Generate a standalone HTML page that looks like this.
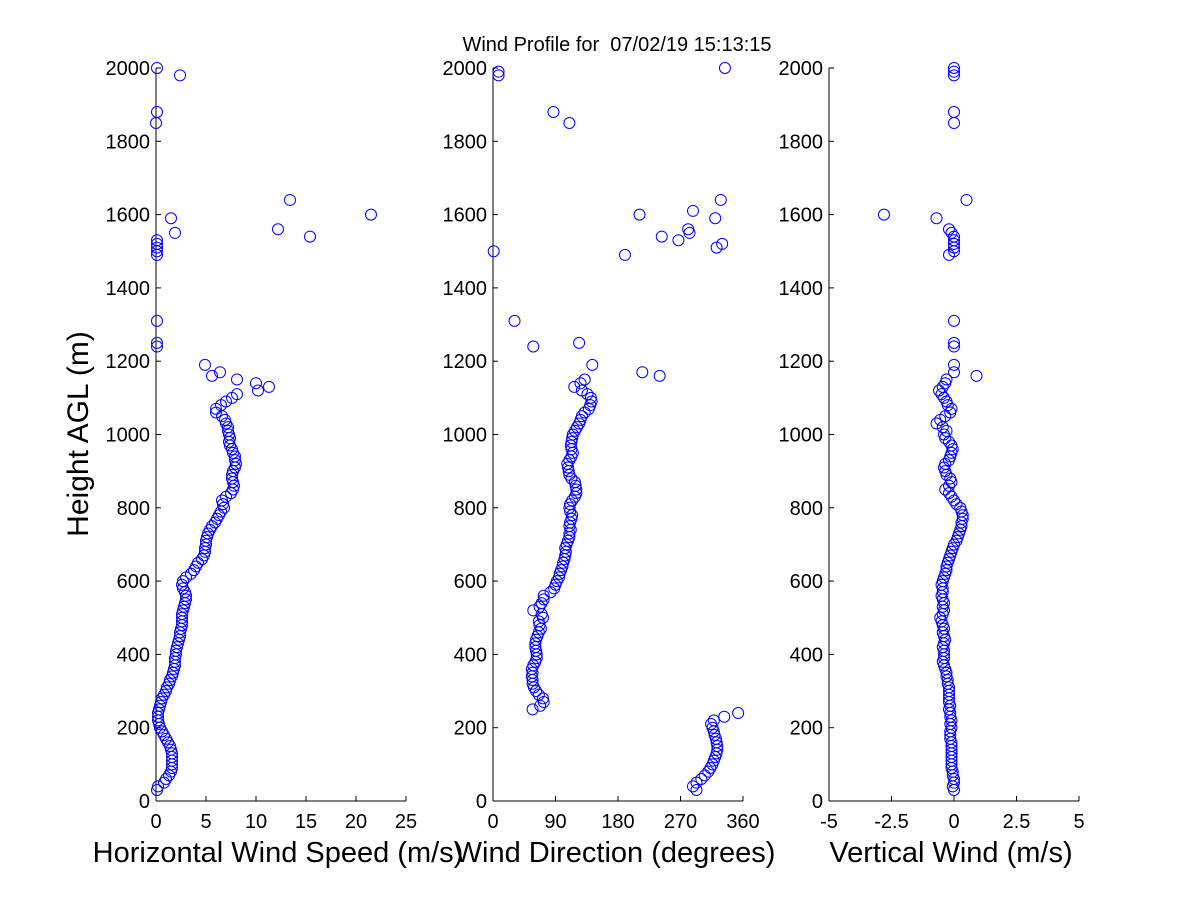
<!DOCTYPE html>
<html><head><meta charset="utf-8"><style>
body{margin:0;background:#fff;}
svg text{font-family:"Liberation Sans",sans-serif;fill:#000;}
</style></head><body>
<svg id="fig" width="1200" height="900" xmlns="http://www.w3.org/2000/svg">
<rect width="1200" height="900" fill="#fff"/>
<text x="617" y="51" font-size="20" text-anchor="middle" xml:space="preserve">Wind Profile for  07/02/19 15:13:15</text>
<text transform="translate(88,434) rotate(-90)" font-size="30" text-anchor="middle">Height AGL (m)</text>
<g id="plots"></g>
</svg>
<script>
const lowHeights=[];for(let h=30;h<=1150;h+=10)lowHeights.push(h);
const speedLow=[0.1,0.2,0.8,1.0,1.3,1.5,1.6,1.6,1.6,1.6,1.6,1.5,1.4,1.2,1.0,0.8,0.6,0.4,0.3,0.2,0.2,0.2,0.3,0.4,0.5,0.6,0.8,1.0,1.1,1.3,1.4,1.6,1.7,1.8,1.9,1.9,1.9,2.0,2.0,2.1,2.2,2.3,2.4,2.4,2.5,2.6,2.6,2.6,2.6,2.7,2.8,2.9,3.0,3.0,2.9,2.7,2.6,2.7,3.0,3.5,3.8,4.0,4.2,4.6,4.8,4.9,4.9,5.0,5.0,5.1,5.2,5.4,5.6,5.9,6.1,6.3,6.5,6.8,6.7,6.6,7.0,7.5,7.7,7.8,7.7,7.6,7.6,7.7,7.9,8.0,7.9,7.9,7.7,7.6,7.4,7.3,7.4,7.3,7.2,7.2,7.0,6.9,6.6,6.0,6.0,6.5,7.0,7.6,8.1,10.2,11.3,10.0,8.1];
const speedUpH=[1160,1170,1190,1240,1250,1310,1490,1500,1510,1520,1530,1540,1550,1560,1590,1600,1640,1850,1880,1980,2000];
const speedUp=[5.6,6.4,4.9,0.1,0.1,0.1,0.1,0.1,0.1,0.1,0.1,15.4,1.9,12.2,1.5,21.5,13.4,0.0,0.1,2.4,0.1];
const dirLow=[293,288,293,300,305,310,313,316,318,320,322,323,323,322,321,319,318,316,314,318,333,353,57,68,73,72,66,62,59,57,57,56,57,56,58,61,63,63,62,61,61,62,64,66,69,67,66,72,70,58,67,70,73,73,83,88,90,92,95,96,98,100,101,103,104,105,104,106,108,110,110,112,110,111,113,114,111,110,111,114,118,120,120,119,118,113,110,109,108,107,110,113,115,113,112,113,114,115,118,121,124,126,128,132,138,140,142,141,136,128,117,126,132];
const dirUpH=[1160,1170,1190,1240,1250,1310,1490,1500,1510,1520,1530,1540,1550,1560,1590,1600,1610,1640,1850,1880,1980,1990,2000];
const dirUp=[240,215,143,58,124,31,190,1,322,330,267,243,283,281,320,211,288,328,110,87,8,8,334];
const vertLow=[0,-0.05,0,0,-0.05,-0.05,-0.1,-0.1,-0.1,-0.1,-0.1,-0.1,-0.1,-0.1,-0.15,-0.15,-0.15,-0.1,
-0.15,-0.1,-0.15,-0.15,-0.2,-0.15,-0.2,-0.2,-0.2,-0.2,
-0.2,-0.25,-0.25,-0.3,-0.3,-0.35,-0.4,-0.45,-0.4,-0.4,
-0.4,-0.45,-0.4,-0.35,-0.4,-0.45,-0.4,-0.45,-0.5,-0.55,
-0.45,-0.4,-0.45,-0.4,-0.45,-0.5,-0.45,-0.45,-0.5,-0.45,
-0.4,-0.35,-0.3,-0.3,-0.25,-0.2,-0.15,-0.1,-0.05,0,
0.1,0.15,0.2,0.25,0.3,0.3,0.35,0.35,0.3,0.25,
0.1,0.0,-0.1,-0.2,-0.35,-0.2,-0.1,-0.15,-0.3,-0.35,
-0.4,-0.35,-0.2,-0.15,-0.1,-0.05,-0.1,-0.2,-0.35,-0.4,
-0.3,-0.45,-0.7,-0.55,-0.35,-0.15,-0.1,-0.25,-0.3,-0.4,
-0.5,-0.6,-0.45,-0.35,-0.3];
const vertUpH=[1160,1170,1190,1240,1250,1310,1490,1500,1510,1520,1530,1540,1550,1560,1590,1600,1640,1850,1880,1980,1990,2000];
const vertUp=[0.9,0,0,0,0,0,-0.2,0,0,0,0,0,-0.1,-0.2,-0.7,-2.8,0.5,0,0,0,0,0];
const yTicks=[0,200,400,600,800,1000,1200,1400,1600,1800,2000];
const speedTicks=[0,5,10,15,20,25];
const dirTicks=[0,90,180,270,360];
const vertTicks=[-5,-2.5,0,2.5,5];

const NS="http://www.w3.org/2000/svg";
const g=document.getElementById('plots');
const Y0=801,Y1=68;
const yScale=h=>Y0+(h/2000)*(Y1-Y0);
function el(tag,attrs,parent){const e=document.createElementNS(NS,tag);for(const k in attrs)e.setAttribute(k,attrs[k]);(parent||g).appendChild(e);return e;}
function panel(name,x0,x1,xmin,xmax,xt,label,hs,vs,hs2,vs2){
  const pg=el('g',{});
  
  
  const xs=v=>x0+(v-xmin)/(xmax-xmin)*(x1-x0);
  const ya=el('line',{x1:x0,y1:Y0,x2:x0,y2:Y1,stroke:'#000','stroke-width':1},pg);
  
  
  const xa=el('line',{x1:x0,y1:Y0,x2:x1,y2:Y0,stroke:'#000','stroke-width':1},pg);
  
  
  yTicks.forEach(t=>{const y=yScale(t);
    el('line',{x1:x0,y1:y,x2:x0+5,y2:y,stroke:'#000'},pg);
    const tx=el('text',{x:x0-6,y:y+7,'font-size':20,'text-anchor':'end'},pg);tx.textContent=t;
    
    });
  xt.forEach(t=>{const x=xs(t);
    el('line',{x1:x,y1:Y0,x2:x,y2:Y0-5,stroke:'#000'},pg);
    const tx=el('text',{x:x,y:Y0+27,'font-size':20,'text-anchor':'middle'},pg);tx.textContent=t;
    
    });
  const lb=el('text',{x:(x0+x1)/2-3,y:862,'font-size':29,'text-anchor':'middle'},pg);lb.textContent=label;
  
  
  const pts=[];
  for(let i=0;i<Math.min(hs.length,vs.length);i++)pts.push([hs[i],vs[i]]);
  for(let i=0;i<Math.min(hs2.length,vs2.length);i++)pts.push([hs2[i],vs2[i]]);
  pts.forEach(p=>{const c=el('circle',{cx:xs(p[1]),cy:yScale(p[0]),r:5.5,fill:'none',stroke:'#0000ff','stroke-width':1},pg);
    
    });
}
panel('speed',156,406,0,25,speedTicks,'Horizontal Wind Speed (m/s)',lowHeights,speedLow,speedUpH,speedUp);
panel('direction',493,743,0,360,dirTicks,'Wind Direction (degrees)',lowHeights,dirLow,dirUpH,dirUp);
panel('vertical',829,1079,-5,5,vertTicks,'Vertical Wind (m/s)',lowHeights,vertLow,vertUpH,vertUp);
</script>
</body></html>
